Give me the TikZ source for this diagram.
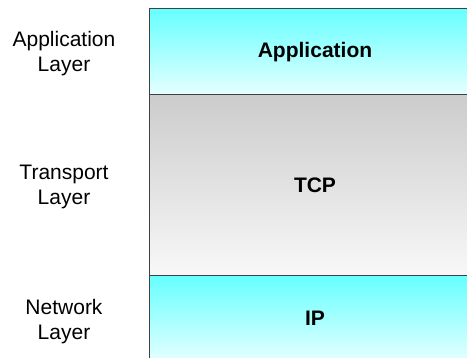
\documentclass[tikz,border=0pt]{standalone}
\usepackage{fontspec}
\setmainfont{Liberation Sans}
\begin{document}
\begin{tikzpicture}[x=1pt,y=-1pt,
  layerbox/.style={draw=black!75, line width=1pt, minimum width=332pt, inner sep=0pt, outer sep=0pt,
    font=\fontsize{21}{25}\selectfont\bfseries},
  cyanbox/.style={layerbox, top color=cyanTop, bottom color=cyanBot},
  graybox/.style={layerbox, top color=grayTop, bottom color=grayBot},
  sidelabel/.style={align=center, font=\fontsize{21}{25}\selectfont, inner sep=0pt}]
\definecolor{cyanTop}{HTML}{66FFFF}
\definecolor{cyanBot}{HTML}{E6FFFF}
\definecolor{grayTop}{HTML}{CCCCCC}
\definecolor{grayBot}{HTML}{F8F8F8}
\useasboundingbox (0,0) rectangle (467,358);
\clip (0,0) rectangle (467,358);
\node[cyanbox, minimum height=86pt] (app) at (315,52) {Application};
\node[graybox, minimum height=180.5pt, anchor=north] (tcp) at (app.south) {TCP};
\node[cyanbox, minimum height=86.5pt, anchor=north] (ip) at (tcp.south) {IP};
\node[sidelabel] (lapp) at (64,54) {Application\\Layer};
\node[sidelabel] (ltcp) at (64,187) {Transport\\Layer};
\node[sidelabel] (lip) at (64,322) {Network\\Layer};
\end{tikzpicture}
\end{document}
